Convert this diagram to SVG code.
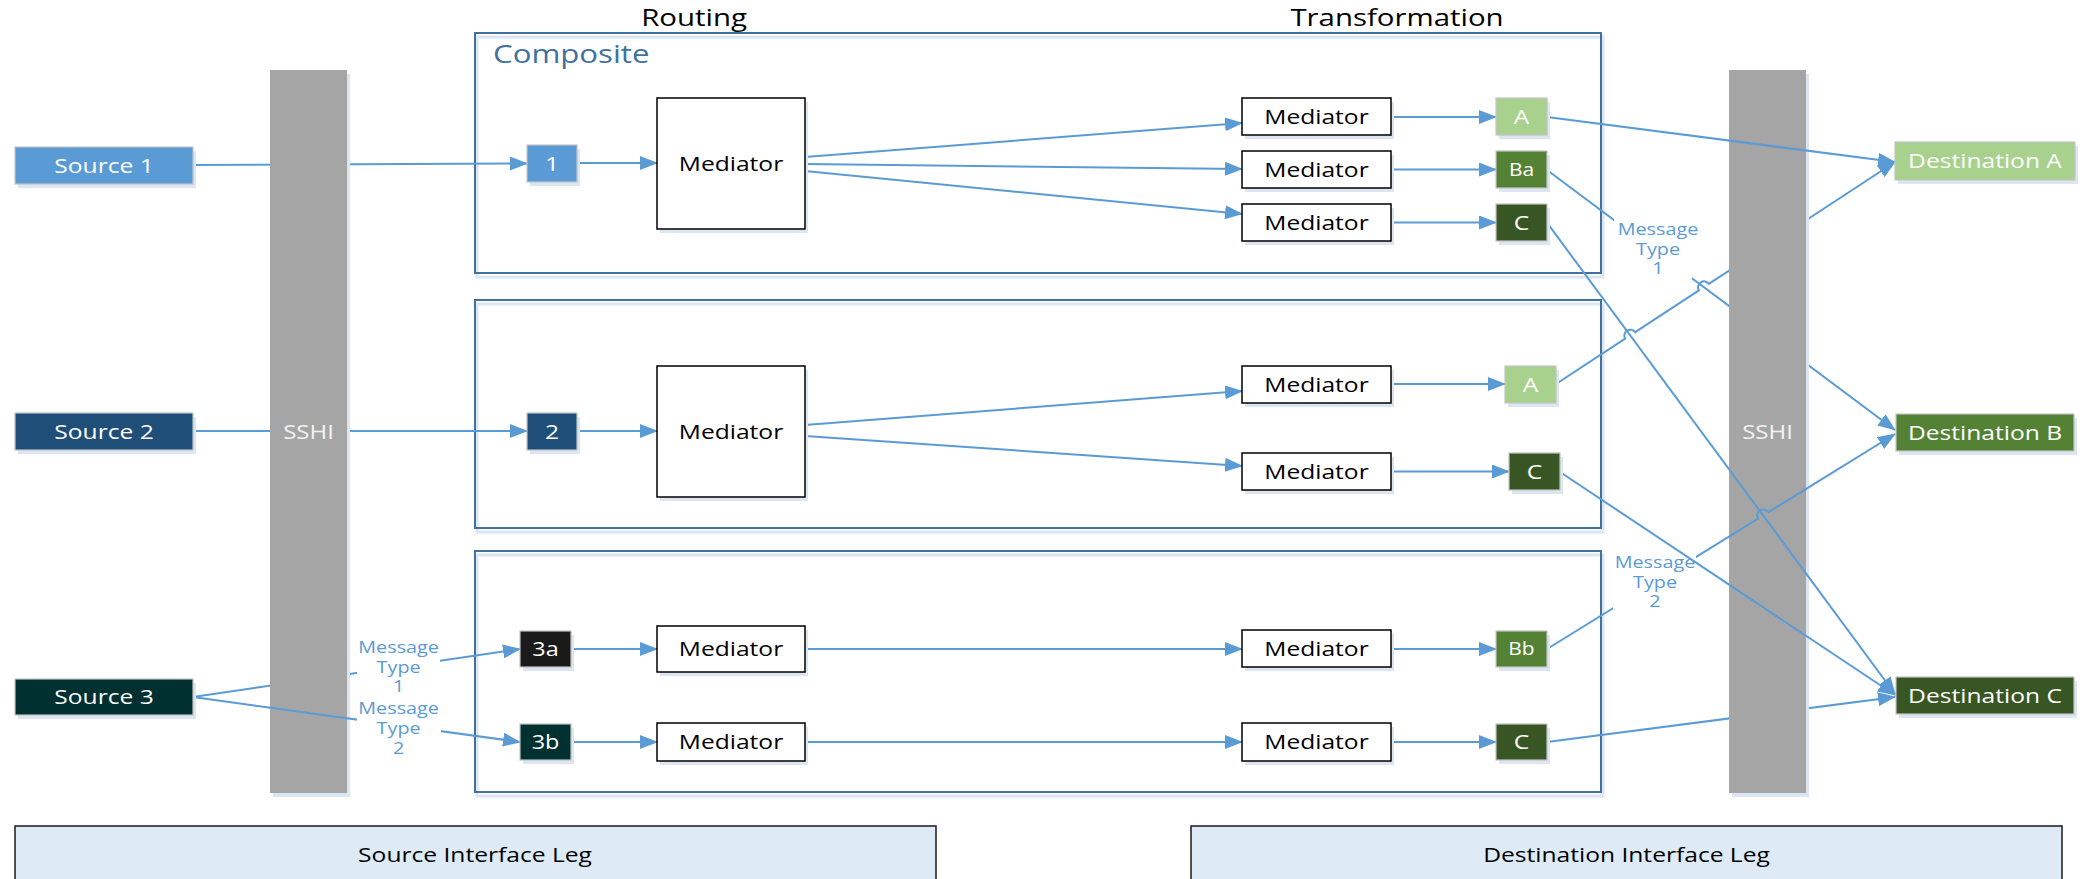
<svg xmlns="http://www.w3.org/2000/svg" width="2091" height="879" viewBox="0 0 2091 879">
  <style>
    text { font-family: "Open Sans", "Noto Sans", "Liberation Sans", sans-serif; }
    .bg { fill: #ffffff; }
    .sh { fill: #DCE6F3; }
    .comp { fill: none; stroke: #41719C; stroke-width: 2; }
    .compsh { fill: none; stroke: #DCE6F3; stroke-width: 3; }
    .bar { fill: #A5A5A5; }
    .med { fill: #ffffff; stroke: #000000; stroke-width: 1.5; }
    .chip { stroke: #C4C4C4; stroke-width: 1.2; }
    .leg { fill: #DEEBF7; stroke: #1A1A1A; stroke-width: 1.5; }
    .ln { fill: none; stroke: #5B9BD5; stroke-width: 2; }
    .arr { marker-end: url(#ah); }
    .w { fill: #ffffff; font-size: 20.5px; text-anchor: middle; }
    .wbar { fill: #F2F2F2; font-size: 20px; text-anchor: middle; }
    .k { fill: #000000; font-size: 20.5px; text-anchor: middle; }
    .hd { fill: #000000; font-size: 24.5px; text-anchor: middle; }
    .ct { fill: #41719C; font-size: 26px; }
    .sm { font-size: 17.5px; }
    .md { font-size: 19.5px; }
    .lab { fill: #5B9BD5; font-size: 16.5px; text-anchor: middle; }
    .lbg { fill: #ffffff; }
  </style>
  <defs>
    <marker id="ah" markerUnits="userSpaceOnUse" markerWidth="20" markerHeight="14" refX="17" refY="7" orient="auto">
      <path d="M0,0 L18,7 L0,14 z" fill="#5B9BD5"/>
    </marker>
  </defs>

  <rect class="bg" x="0" y="0" width="2091" height="879"/>

  <!-- column headings -->
  <g id="headings">
    <text class="hd" transform="translate(694 26) scale(1.2 1)">Routing</text>
    <text class="hd" transform="translate(1397 26) scale(1.2 1)">Transformation</text>
  </g>

  <!-- composite containers -->
  <g id="composite-1">
    <rect class="compsh" x="477" y="37" width="1126" height="240"/>
    <rect class="comp" x="475" y="33" width="1126" height="240"/>
    <text class="ct" transform="translate(493 63) scale(1.2 1)">Composite</text>
  </g>
  <g id="composite-2">
    <rect class="compsh" x="477" y="304" width="1126" height="228"/>
    <rect class="comp" x="475" y="300" width="1126" height="228"/>
  </g>
  <g id="composite-3">
    <rect class="compsh" x="477" y="555" width="1126" height="241"/>
    <rect class="comp" x="475" y="551" width="1126" height="241"/>
  </g>

  <!-- connectors that pass behind the SSHI bars -->
  <g id="connectors-back">
    <path class="ln arr" d="M193,165 L527,163.5"/>
    <path class="ln arr" d="M193,431 L527,431"/>
    <path class="ln arr" d="M193,697 L520,649"/>
    <path class="ln arr" d="M1547,170 L1895,430"/>
    <path class="ln arr" d="M1556,384 L1625.2,338.7 A6,6 0 0 1 1635.2,332.1 L1698.9,290.4 A6,6 0 0 1 1708.9,283.8 L1895,162"/>
    <path class="ln arr" d="M1547,742 L1895,697"/>
  </g>

  <!-- SSHI bars -->
  <g id="sshi-left">
    <rect class="sh" x="273" y="74" width="77" height="723"/>
    <rect class="bar" x="270" y="70" width="77" height="723"/>
    <text class="wbar" transform="translate(308.5 439) scale(1.2 1)">SSHI</text>
  </g>
  <g id="sshi-right">
    <rect class="sh" x="1732" y="74" width="77" height="723"/>
    <rect class="bar" x="1729" y="70" width="77" height="723"/>
    <text class="wbar" transform="translate(1767.5 439) scale(1.2 1)">SSHI</text>
  </g>

  <!-- connectors drawn in front -->
  <g id="connectors">
    <!-- composite 1 -->
    <path class="ln arr" d="M577,163 L657,163"/>
    <path class="ln arr" d="M805,157 L1242,123"/>
    <path class="ln arr" d="M805,164 L1242,169"/>
    <path class="ln arr" d="M805,171 L1242,214"/>
    <path class="ln arr" d="M1391,117 L1496,117"/>
    <path class="ln arr" d="M1391,169.5 L1496,169.5"/>
    <path class="ln arr" d="M1391,222.5 L1496,222.5"/>
    <!-- composite 2 -->
    <path class="ln arr" d="M577,431 L657,431"/>
    <path class="ln arr" d="M805,425 L1242,391"/>
    <path class="ln arr" d="M805,436 L1242,466"/>
    <path class="ln arr" d="M1391,384 L1505,384"/>
    <path class="ln arr" d="M1391,471.5 L1509,471.5"/>
    <!-- composite 3 -->
    <path class="ln arr" d="M193,697 L520,742"/>
    <path class="ln arr" d="M571,649 L657,649"/>
    <path class="ln arr" d="M571,742 L657,742"/>
    <path class="ln arr" d="M805,649 L1242,649"/>
    <path class="ln arr" d="M805,742 L1242,742"/>
    <path class="ln arr" d="M1391,649 L1496,649"/>
    <path class="ln arr" d="M1391,742 L1496,742"/>
    <!-- to destinations -->
    <path class="ln arr" d="M1547,117 L1895,162"/>
    <path class="ln arr" d="M1547,222.7 L1895,694"/>
    <path class="ln arr" d="M1547,649 L1758.1,518.6 A6,6 0 0 1 1768.3,512.2 L1895,434"/>

    <!-- connector labels -->
    <g id="label-src-type1">
      <rect class="lbg" x="357" y="636" width="83" height="62"/>
      <text class="lab" transform="translate(398.6 652.5) scale(1.2 1)">Message</text>
      <text class="lab" transform="translate(398.6 672.5) scale(1.2 1)">Type</text>
      <text class="lab" transform="translate(398.6 692) scale(1.2 1)">1</text>
    </g>
    <g id="label-src-type2">
      <rect class="lbg" x="357" y="700" width="84" height="60"/>
      <text class="lab" transform="translate(398.6 714) scale(1.2 1)">Message</text>
      <text class="lab" transform="translate(398.6 734) scale(1.2 1)">Type</text>
      <text class="lab" transform="translate(398.6 753.5) scale(1.2 1)">2</text>
    </g>
    <g id="label-dst-type1">
      <rect class="lbg" x="1614" y="214" width="78" height="68"/>
      <text class="lab" transform="translate(1658 235) scale(1.2 1)">Message</text>
      <text class="lab" transform="translate(1658 255) scale(1.2 1)">Type</text>
      <text class="lab" transform="translate(1658 274) scale(1.2 1)">1</text>
    </g>
    <g id="label-dst-type2">
      <rect class="lbg" x="1613" y="550" width="83" height="66"/>
      <text class="lab" transform="translate(1655 567.5) scale(1.2 1)">Message</text>
      <text class="lab" transform="translate(1655 587.5) scale(1.2 1)">Type</text>
      <text class="lab" transform="translate(1655 607) scale(1.2 1)">2</text>
    </g>

    <path class="ln arr" d="M1560,472 L1895,695"/>
  </g>

  <!-- sources -->
  <g id="source-1">
    <rect class="sh" x="18" y="151" width="178" height="37"/>
    <rect class="chip" x="15" y="147" width="178" height="37" fill="#5B9BD5"/>
    <text class="w" transform="translate(104 172.5) scale(1.2 1)">Source 1</text>
  </g>
  <g id="source-2">
    <rect class="sh" x="18" y="417" width="178" height="37"/>
    <rect class="chip" x="15" y="413" width="178" height="37" fill="#1F4E79"/>
    <text class="w" transform="translate(104 438.5) scale(1.2 1)">Source 2</text>
  </g>
  <g id="source-3">
    <rect class="sh" x="18" y="683" width="178" height="36"/>
    <rect class="chip" x="15" y="679" width="178" height="36" fill="#00302F"/>
    <text class="w" transform="translate(104 704) scale(1.2 1)">Source 3</text>
  </g>

  <!-- routing entry points -->
  <g id="entry-1">
    <rect class="sh" x="530" y="149" width="50" height="37"/>
    <rect class="chip" x="527" y="145" width="50" height="37" fill="#5B9BD5"/>
    <text class="w" transform="translate(552 170.5) scale(1.2 1)">1</text>
  </g>
  <g id="entry-2">
    <rect class="sh" x="530" y="417" width="50" height="37"/>
    <rect class="chip" x="527" y="413" width="50" height="37" fill="#1F4E79"/>
    <text class="w" transform="translate(552 438.5) scale(1.2 1)">2</text>
  </g>
  <g id="entry-3a">
    <rect class="sh" x="523" y="635" width="51" height="36"/>
    <rect class="chip" x="520" y="631" width="51" height="36" fill="#1A1A1A"/>
    <text class="w md" transform="translate(545.5 655.5) scale(1.2 1)">3a</text>
  </g>
  <g id="entry-3b">
    <rect class="sh" x="523" y="728" width="51" height="36"/>
    <rect class="chip" x="520" y="724" width="51" height="36" fill="#00302F"/>
    <text class="w md" transform="translate(545.5 748.5) scale(1.2 1)">3b</text>
  </g>

  <!-- routing mediators -->
  <g id="route-mediator-1">
    <rect class="sh" x="660" y="102" width="148" height="131"/>
    <rect class="med" x="657" y="98" width="148" height="131"/>
    <text class="k" transform="translate(731 170.5) scale(1.2 1)">Mediator</text>
  </g>
  <g id="route-mediator-2">
    <rect class="sh" x="660" y="370" width="148" height="131"/>
    <rect class="med" x="657" y="366" width="148" height="131"/>
    <text class="k" transform="translate(731 438.5) scale(1.2 1)">Mediator</text>
  </g>
  <g id="route-mediator-3a">
    <rect class="sh" x="660" y="630" width="148" height="46"/>
    <rect class="med" x="657" y="626" width="148" height="46"/>
    <text class="k" transform="translate(731 656) scale(1.2 1)">Mediator</text>
  </g>
  <g id="route-mediator-3b">
    <rect class="sh" x="660" y="727" width="148" height="38"/>
    <rect class="med" x="657" y="723" width="148" height="38"/>
    <text class="k" transform="translate(731 749) scale(1.2 1)">Mediator</text>
  </g>

  <!-- transformation mediators -->
  <g id="xform-1a">
    <rect class="sh" x="1245" y="102" width="149" height="37"/>
    <rect class="med" x="1242" y="98" width="149" height="37"/>
    <text class="k" transform="translate(1316.5 123.5) scale(1.2 1)">Mediator</text>
  </g>
  <g id="xform-1b">
    <rect class="sh" x="1245" y="155" width="149" height="37"/>
    <rect class="med" x="1242" y="151" width="149" height="37"/>
    <text class="k" transform="translate(1316.5 176.5) scale(1.2 1)">Mediator</text>
  </g>
  <g id="xform-1c">
    <rect class="sh" x="1245" y="208" width="149" height="37"/>
    <rect class="med" x="1242" y="204" width="149" height="37"/>
    <text class="k" transform="translate(1316.5 229.5) scale(1.2 1)">Mediator</text>
  </g>
  <g id="xform-2a">
    <rect class="sh" x="1245" y="370" width="149" height="37"/>
    <rect class="med" x="1242" y="366" width="149" height="37"/>
    <text class="k" transform="translate(1316.5 391.5) scale(1.2 1)">Mediator</text>
  </g>
  <g id="xform-2b">
    <rect class="sh" x="1245" y="457" width="149" height="37"/>
    <rect class="med" x="1242" y="453" width="149" height="37"/>
    <text class="k" transform="translate(1316.5 478.5) scale(1.2 1)">Mediator</text>
  </g>
  <g id="xform-3a">
    <rect class="sh" x="1245" y="634" width="149" height="37"/>
    <rect class="med" x="1242" y="630" width="149" height="37"/>
    <text class="k" transform="translate(1316.5 655.5) scale(1.2 1)">Mediator</text>
  </g>
  <g id="xform-3b">
    <rect class="sh" x="1245" y="727" width="149" height="38"/>
    <rect class="med" x="1242" y="723" width="149" height="38"/>
    <text class="k" transform="translate(1316.5 749) scale(1.2 1)">Mediator</text>
  </g>

  <!-- transformed message formats -->
  <g id="out-1-a">
    <rect class="sh" x="1499" y="102" width="51" height="37"/>
    <rect class="chip" x="1496" y="98" width="51" height="37" fill="#A9D18E"/>
    <text class="w" transform="translate(1521.5 123.5) scale(1.2 1)">A</text>
  </g>
  <g id="out-1-ba">
    <rect class="sh" x="1499" y="155" width="51" height="37"/>
    <rect class="chip" x="1496" y="151" width="51" height="37" fill="#548235"/>
    <text class="w sm" transform="translate(1521.5 175.5) scale(1.2 1)">Ba</text>
  </g>
  <g id="out-1-c">
    <rect class="sh" x="1499" y="208" width="51" height="37"/>
    <rect class="chip" x="1496" y="204" width="51" height="37" fill="#375623"/>
    <text class="w" transform="translate(1521.5 229.5) scale(1.2 1)">C</text>
  </g>
  <g id="out-2-a">
    <rect class="sh" x="1508" y="370" width="51" height="37"/>
    <rect class="chip" x="1505" y="366" width="51" height="37" fill="#A9D18E"/>
    <text class="w" transform="translate(1530.5 391.5) scale(1.2 1)">A</text>
  </g>
  <g id="out-2-c">
    <rect class="sh" x="1512" y="457" width="51" height="37"/>
    <rect class="chip" x="1509" y="453" width="51" height="37" fill="#375623"/>
    <text class="w" transform="translate(1534.5 478.5) scale(1.2 1)">C</text>
  </g>
  <g id="out-3-bb">
    <rect class="sh" x="1499" y="635" width="51" height="36"/>
    <rect class="chip" x="1496" y="631" width="51" height="36" fill="#548235"/>
    <text class="w sm" transform="translate(1521.5 655) scale(1.2 1)">Bb</text>
  </g>
  <g id="out-3-c">
    <rect class="sh" x="1499" y="728" width="51" height="36"/>
    <rect class="chip" x="1496" y="724" width="51" height="36" fill="#375623"/>
    <text class="w" transform="translate(1521.5 749) scale(1.2 1)">C</text>
  </g>

  <!-- destinations -->
  <g id="destination-a">
    <rect class="sh" x="1898" y="146" width="180" height="38"/>
    <rect class="chip" x="1895" y="142" width="180" height="38" fill="#A9D18E"/>
    <text class="w" transform="translate(1985 168) scale(1.2 1)">Destination A</text>
  </g>
  <g id="destination-b">
    <rect class="sh" x="1899" y="418" width="178" height="37"/>
    <rect class="chip" x="1896" y="414" width="178" height="37" fill="#548235"/>
    <text class="w" transform="translate(1985 439.5) scale(1.2 1)">Destination B</text>
  </g>
  <g id="destination-c">
    <rect class="sh" x="1899" y="681" width="178" height="37"/>
    <rect class="chip" x="1896" y="677" width="178" height="37" fill="#375623"/>
    <text class="w" transform="translate(1985 702.5) scale(1.2 1)">Destination C</text>
  </g>

  <!-- interface legs -->
  <g id="source-interface-leg">
    <rect class="leg" x="15" y="826" width="921" height="80"/>
    <text class="k" transform="translate(475 862) scale(1.2 1)">Source Interface Leg</text>
  </g>
  <g id="destination-interface-leg">
    <rect class="leg" x="1191" y="826" width="871" height="80"/>
    <text class="k" transform="translate(1626.5 862) scale(1.2 1)">Destination Interface Leg</text>
  </g>
</svg>
